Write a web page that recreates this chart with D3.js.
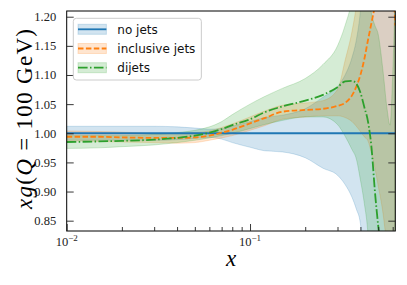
<!DOCTYPE html>
<html>
<head>
<meta charset="utf-8">
<script src="https://cdn.jsdelivr.net/npm/d3@7"></script>
<style>
  body { margin: 0; background: #fff; }
  svg { display: block; }
</style>
</head>
<body>
<div id="chart"></div>
<script>
// x grid shared by every series
const xGrid = [0.01, 0.015, 0.02, 0.03, 0.04, 0.05, 0.06, 0.07, 0.08, 0.1, 0.12, 0.15, 0.2, 0.25, 0.3,
  0.33, 0.36, 0.38, 0.4, 0.42, 0.44, 0.46, 0.48, 0.5, 0.53, 0.56, 0.58, 0.6, 0.62];

// no jets (reference, normalised to 1)
const noJetsMid = xGrid.map(() => 1.0);
const noJetsUp = [1.012, 1.012, 1.012, 1.012, 1.011, 1.009, 1.007, 1.008, 1.012, 1.020, 1.027, 1.031, 1.042, 1.062, 1.080,
  1.100, 1.130, 1.160, 1.210, 1.300, 1.420, 1.550, 1.700, 1.800, 1.900, 2.000, 2.000, 2.000, 2.000];
const noJetsLo = [0.988, 0.988, 0.988, 0.988, 0.989, 0.991, 0.993, 0.990, 0.984, 0.976, 0.970, 0.968, 0.958, 0.940, 0.928,
  0.912, 0.890, 0.870, 0.845, 0.750, 0.600, 0.450, 0.300, 0.200, 0.100, 0.000, 0.000, 0.000, 0.000];

// inclusive jets
const inclMid = [0.994, 0.994, 0.993, 0.992, 0.992, 0.993, 0.996, 1.001, 1.006, 1.017, 1.026, 1.037, 1.040, 1.042, 1.047,
  1.052, 1.065, 1.080, 1.100, 1.127, 1.160, 1.190, 1.220, 1.260, 1.350, 1.400, 1.360, 1.280, 1.185];
const inclUp = [1.004, 1.003, 1.002, 1.000, 1.000, 1.001, 1.004, 1.010, 1.016, 1.028, 1.038, 1.048, 1.052, 1.056, 1.075,
  1.125, 1.175, 1.220, 1.290, 1.350, 1.450, 1.550, 1.600, 1.700, 1.800, 1.800, 1.800, 1.800, 1.800];
const inclLo = [0.987, 0.986, 0.985, 0.984, 0.983, 0.984, 0.988, 0.992, 0.996, 1.005, 1.013, 1.024, 1.028, 1.030, 1.030,
  1.027, 1.020, 1.012, 1.003, 0.994, 0.987, 0.965, 0.940, 0.910, 0.865, 0.800, 0.750, 0.700, 0.650];

// dijets
const dijetMid = [0.985, 0.986, 0.987, 0.989, 0.992, 0.996, 1.001, 1.007, 1.014, 1.024, 1.036, 1.046, 1.056, 1.066, 1.079,
  1.089, 1.090, 1.085, 1.070, 1.045, 1.020, 0.975, 0.900, 0.842, 0.780, 0.700, 0.650, 0.600, 0.550];
const dijetUp = [0.996, 0.996, 0.996, 0.998, 1.001, 1.005, 1.011, 1.020, 1.032, 1.050, 1.063, 1.077, 1.094, 1.118, 1.150,
  1.185, 1.230, 1.280, 1.330, 1.300, 1.250, 1.205, 1.185, 1.170, 1.110, 1.040, 1.014, 1.100, 1.250];
const dijetLo = [0.974, 0.975, 0.977, 0.980, 0.984, 0.988, 0.992, 0.996, 1.000, 1.008, 1.015, 1.022, 1.028, 1.028, 1.015,
  0.995, 0.972, 0.956, 0.920, 0.880, 0.825, 0.700, 0.550, 0.400, 0.300, 0.200, 0.100, 0.000, 0.000];

const yTicks = [0.85, 0.90, 0.95, 1.00, 1.05, 1.10, 1.15, 1.20];
const xMajor = [0.01, 0.1];
const xMinor = [0.02, 0.03, 0.04, 0.05, 0.06, 0.07, 0.08, 0.09, 0.2, 0.3, 0.4, 0.5, 0.6];
const xMajorLabels = ['\u22122', '\u22121'];

const series = [
  {name: 'no jets', color: '#1f77b4', mid: noJetsMid, up: noJetsUp, lo: noJetsLo, dash: null},
  {name: 'inclusive jets', color: '#ff7f0e', mid: inclMid, up: inclUp, lo: inclLo, dash: '5.5,2.4'},
  {name: 'dijets', color: '#2ca02c', mid: dijetMid, up: dijetUp, lo: dijetLo, dash: '9.6,2.4,1.5,2.4'}
];

const serif = "'Liberation Serif', 'Times New Roman', serif";

const W = 407, H = 285;
const margin = {top: 11, right: 11.7, bottom: 54, left: 66.7};
const width = W - margin.left - margin.right;
const height = H - margin.top - margin.bottom;

const x = d3.scaleLog().domain([0.01, 0.62]).range([0, width]);
const y = d3.scaleLinear().domain([0.8323, 1.2098]).range([height, 0]);

const svg = d3.select('#chart').append('svg')
  .attr('width', W)
  .attr('height', H);

svg.append('defs').append('clipPath')
  .attr('id', 'plot-clip')
  .append('rect')
  .attr('width', width)
  .attr('height', height);

const g = svg.append('g')
  .attr('transform', 'translate(' + margin.left + ',' + margin.top + ')');

const plot = g.append('g').attr('clip-path', 'url(#plot-clip)');

// bands first
series.forEach(function(s) {
  const area = d3.area()
    .x(function(d, i) { return x(xGrid[i]); })
    .y0(function(d, i) { return y(s.lo[i]); })
    .y1(function(d, i) { return y(s.up[i]); })
    .curve(d3.curveMonotoneX);
  plot.append('path')
    .attr('d', area(xGrid))
    .attr('fill', s.color)
    .attr('fill-opacity', 0.2)
    .attr('stroke', s.color)
    .attr('stroke-opacity', 0.2)
    .attr('stroke-width', 1);
});

// central lines
series.forEach(function(s) {
  const line = d3.line()
    .x(function(d, i) { return x(xGrid[i]); })
    .y(function(d, i) { return y(s.mid[i]); })
    .curve(d3.curveMonotoneX);
  plot.append('path')
    .attr('d', line(xGrid))
    .attr('fill', 'none')
    .attr('stroke', s.color)
    .attr('stroke-width', 1.8)
    .attr('stroke-dasharray', s.dash);
});

// frame
g.append('rect')
  .attr('width', width)
  .attr('height', height)
  .attr('fill', 'none')
  .attr('stroke', '#000')
  .attr('stroke-width', 1);

// y axis, ticks inward on both sides
const yAxisL = d3.axisLeft(y).tickValues(yTicks).tickSizeInner(-7).tickSizeOuter(0)
  .tickPadding(10.5).tickFormat(d3.format('.2f'));
const yl = g.append('g').call(yAxisL);
yl.select('.domain').remove();
yl.selectAll('text')
  .style('font-family', serif)
  .style('font-size', '12.5px')
  .attr('fill', '#222');

const yAxisR = d3.axisRight(y).tickValues(yTicks).tickSizeInner(-7).tickSizeOuter(0).tickFormat('');
const yr = g.append('g').attr('transform', 'translate(' + width + ',0)').call(yAxisR);
yr.select('.domain').remove();

// x axis, log, ticks inward
const xAxisMajor = d3.axisBottom(x).tickValues(xMajor).tickSizeInner(-7).tickSizeOuter(0).tickFormat('');
const xa = g.append('g').attr('transform', 'translate(0,' + height + ')').call(xAxisMajor);
xa.select('.domain').remove();
const xAxisMinor = d3.axisBottom(x).tickValues(xMinor).tickSizeInner(-4).tickSizeOuter(0).tickFormat('');
const xm = g.append('g').attr('transform', 'translate(0,' + height + ')').call(xAxisMinor);
xm.select('.domain').remove();

g.selectAll('.tick line').attr('stroke', '#222').attr('stroke-width', 0.9);

const xLab = g.append('g').attr('transform', 'translate(0,' + height + ')');
xMajor.forEach(function(v, i) {
  const t = xLab.append('text')
    .attr('x', x(v))
    .attr('y', 15)
    .attr('text-anchor', 'middle')
    .style('font-family', serif)
    .style('font-size', '12.5px')
    .attr('fill', '#222');
  t.append('tspan').text('10');
  t.append('tspan').attr('dy', -5).style('font-size', '9px').text(xMajorLabels[i]);
});

// axis titles
svg.append('text')
  .attr('x', margin.left + x(Math.sqrt(0.01 * 0.62)))
  .attr('y', 266)
  .attr('text-anchor', 'middle')
  .style('font-family', serif)
  .style('font-size', '23px')
  .style('font-style', 'italic')
  .text('x');

const yt = svg.append('text')
  .attr('transform', 'translate(32,119) rotate(-90)')
  .attr('text-anchor', 'middle')
  .attr('textLength', 180)
  .attr('lengthAdjust', 'spacing')
  .style('font-family', serif)
  .style('font-size', '23px');
yt.append('tspan').style('font-style', 'italic').text('xg');
yt.append('tspan').text('(');
yt.append('tspan').style('font-style', 'italic').text('Q');
yt.append('tspan').text(' = 100 GeV)');

// legend
const leg = g.append('g').attr('transform', 'translate(6.6,7.3)');
const legBox = leg.append('rect')
  .attr('rx', 3).attr('ry', 3)
  .attr('fill', '#fff')
  .attr('fill-opacity', 0.8)
  .attr('stroke', '#cccccc')
  .attr('stroke-width', 1);
const rowH = 19.2;
let maxW = 0;
series.forEach(function(s, i) {
  const row = leg.append('g').attr('transform', 'translate(0,' + (11 + i * rowH) + ')');
  row.append('rect')
    .attr('x', 4.7).attr('y', -5)
    .attr('width', 28.4).attr('height', 10)
    .attr('fill', s.color).attr('fill-opacity', 0.2)
    .attr('stroke', s.color).attr('stroke-opacity', 0.2);
  row.append('line')
    .attr('x1', 4.7).attr('x2', 33.1)
    .attr('stroke', s.color)
    .attr('stroke-width', 1.8)
    .attr('stroke-dasharray', s.dash);
  const t = row.append('text')
    .attr('x', 44)
    .attr('dy', '0.35em')
    .style('font-family', "'DejaVu Sans', sans-serif")
    .style('font-size', '12px')
    .attr('fill', '#111')
    .text(s.name);
  maxW = Math.max(maxW, t.node().getComputedTextLength());
});
legBox.attr('width', 44 + maxW + 6).attr('height', 61.7);
</script>
</body>
</html>
